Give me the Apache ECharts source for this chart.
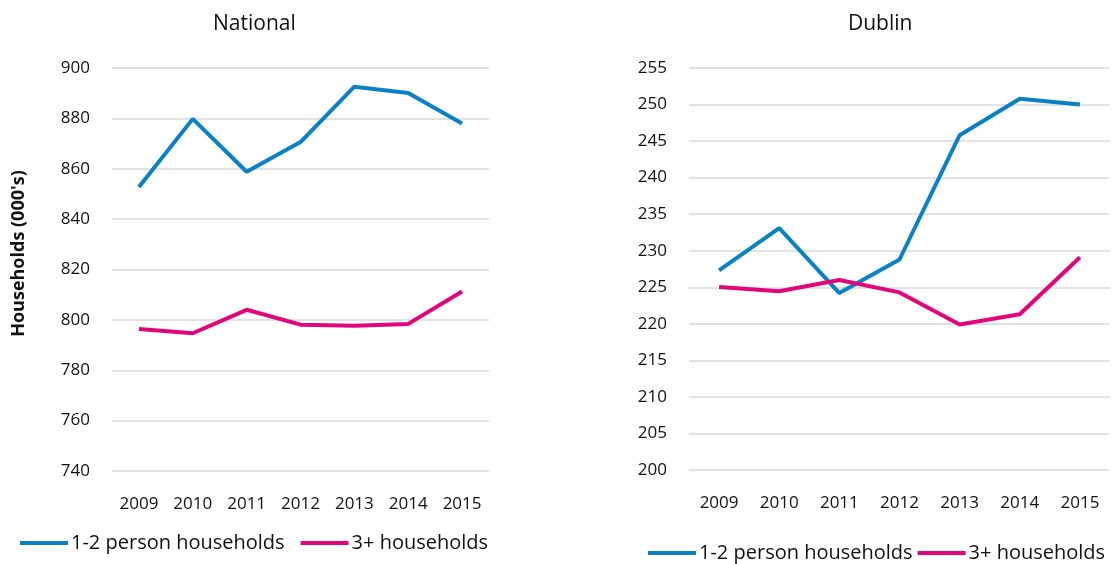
<!DOCTYPE html>
<html lang="en">
<head>
  <meta charset="utf-8">
  <style>
    html, body { margin: 0; padding: 0; background: #fff; }
    #container { width: 1116px; height: 564px; }
  </style>
</head>
<body>
  <div id="container"></div>
  <script src="https://fastly.jsdelivr.net/npm/echarts@6/dist/echarts.min.js"></script>
  <script>
    var years = ['2009', '2010', '2011', '2012', '2013', '2014', '2015'];
    var seriesNames = ['1-2 person households', '3+ households'];

    // National (000's)
    var nationalSmall = [852.8, 879.8, 858.8, 870.6, 892.6, 890.1, 878.0];
    var nationalLarge = [796.4, 794.7, 804.0, 798.1, 797.7, 798.4, 811.3];

    // Dublin (000's)
    var dublinSmall = [227.3, 233.1, 224.2, 228.8, 245.8, 250.8, 250.0];
    var dublinLarge = [225.05, 224.45, 226.0, 224.3, 219.9, 221.3, 229.1];

    var blue = '#0A80C6';
    var pink = '#E2067C';
    var font = '"Open Sans", sans-serif';

    var chart = echarts.init(document.getElementById('container'));

    function line(name, data, color, idx) {
      return {
        name: name, type: 'line', data: data,
        xAxisIndex: idx, yAxisIndex: idx,
        symbol: 'none', smooth: false,
        lineStyle: { color: color, width: 4 },
        itemStyle: { color: color }
      };
    }

    function xAxis(idx) {
      return {
        type: 'category', gridIndex: idx, data: years,
        axisLine: { show: false }, axisTick: { show: false },
        axisLabel: { color: '#111', fontSize: 17, fontFamily: font, margin: 25 }
      };
    }

    function yAxis(idx, min, max, step, extra) {
      return Object.assign({
        type: 'value', gridIndex: idx, min: min, max: max, interval: step,
        axisLine: { show: false }, axisTick: { show: false },
        axisLabel: { color: '#111', fontSize: 17, fontFamily: font, margin: 22 },
        splitLine: { lineStyle: { color: '#d9d9d9', width: 1.5 } }
      }, extra || {});
    }

    function legend(left, top, gap) {
      return {
        data: seriesNames, left: left, top: top, icon: 'rect',
        width: 470, padding: 0,
        itemWidth: 48, itemHeight: 4, itemGap: gap,
        textStyle: { fontSize: 20, color: '#111', fontFamily: font, padding: [0, 0, 0, -2] }
      };
    }

    chart.setOption({
      animation: false,
      title: [
        { text: 'National', left: 208, top: 9, textStyle: { fontSize: 21, fontWeight: 'normal', color: '#111', fontFamily: font } },
        { text: 'Dublin', left: 843, top: 9, textStyle: { fontSize: 21, fontWeight: 'normal', color: '#111', fontFamily: font } }
      ],
      grid: [
        { left: 112, top: 68, width: 377, height: 403 },
        { left: 689, top: 68, width: 421, height: 402 }
      ],
      xAxis: [xAxis(0), xAxis(1)],
      yAxis: [
        yAxis(0, 740, 900, 20, {
          name: "Households (000's)", nameLocation: 'middle', nameGap: 84, nameRotate: 90,
          nameTextStyle: { fontSize: 18, fontWeight: 'bold', color: '#111', fontFamily: font, padding: [0, 0, 0, 32] }
        }),
        yAxis(1, 200, 255, 5)
      ],
      legend: [legend(20, 533, 16), legend(648, 543, 5)],
      series: [
        line(seriesNames[0], nationalSmall, blue, 0),
        line(seriesNames[1], nationalLarge, pink, 0),
        line(seriesNames[0], dublinSmall, blue, 1),
        line(seriesNames[1], dublinLarge, pink, 1)
      ]
    });
  </script>
</body>
</html>
